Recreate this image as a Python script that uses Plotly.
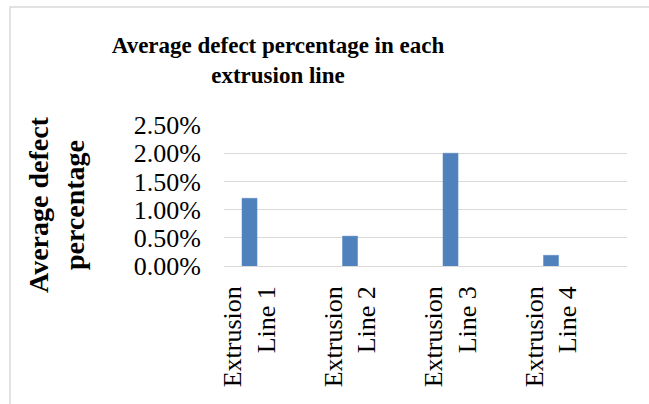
import plotly.graph_objects as go

# Average defect rate per extrusion line (fractions)
lines = ["Extrusion<br>Line 1", "Extrusion<br>Line 2", "Extrusion<br>Line 3", "Extrusion<br>Line 4"]
defect_rate = [0.0120, 0.0053, 0.0200, 0.0019]
y_ticks = [0.0, 0.005, 0.010, 0.015, 0.020, 0.025]

W, H = 649, 404
L, R, T, B = 224, 22, 125, 138
pw, ph = W - L - R, H - T - B


def px_x(x):
    return (x - L) / pw


def px_y(y):
    return (H - B - y) / ph


serif = "Liberation Serif, Times New Roman, serif"

fig = go.Figure(
    go.Bar(
        x=list(range(len(lines))),
        y=defect_rate,
        width=0.15,
        marker=dict(color="#4F81BD", line=dict(color="#5B8BC6", width=0.5)),
    )
)

fig.update_layout(
    width=W,
    height=H,
    margin=dict(l=L, r=R, t=T, b=B),
    paper_bgcolor="white",
    plot_bgcolor="white",
    showlegend=False,
    font=dict(family=serif, color="black"),
    title=dict(
        text="<b>Average defect percentage in each<br>extrusion line</b>",
        font=dict(family=serif, size=23, color="black"),
        xref="container",
        x=278 / W,
        xanchor="center",
        yref="container",
        y=1 - 53 / H,
        yanchor="top",
    ),
    xaxis=dict(
        tickmode="array",
        tickvals=list(range(len(lines))),
        ticktext=lines,
        tickangle=-90,
        range=[-0.254, 3.756],
        showgrid=False,
        zeroline=False,
        showline=False,
        ticks="",
        ticklabelstandoff=14,
        tickfont=dict(family=serif, size=26, color="black"),
        fixedrange=True,
    ),
    yaxis=dict(
        range=[0, 0.025],
        tickmode="array",
        tickvals=y_ticks,
        tickformat=".2%",
        showgrid=True,
        gridcolor="#D9D9D9",
        gridwidth=1,
        zeroline=True,
        zerolinecolor="#D9D9D9",
        zerolinewidth=1,
        showline=False,
        ticks="",
        ticklabelstandoff=22,
        tickfont=dict(family=serif, size=26, color="black"),
        fixedrange=True,
    ),
    annotations=[
        dict(
            text="<b>Average defect<br>percentage</b>",
            textangle=-90,
            xref="paper",
            yref="paper",
            x=px_x(56),
            y=px_y(205),
            xanchor="center",
            yanchor="middle",
            showarrow=False,
            font=dict(family=serif, size=28, color="black"),
        )
    ],
    shapes=[
        # chart area border (left and top edges visible)
        dict(
            type="rect",
            xref="paper",
            yref="paper",
            x0=px_x(10),
            y0=px_y(H + 20),
            x1=px_x(W + 20),
            y1=px_y(7),
            line=dict(color="#D9D9D9", width=1.5),
            fillcolor="rgba(0,0,0,0)",
            layer="below",
        )
    ],
)

fig.write_html("out.html")
